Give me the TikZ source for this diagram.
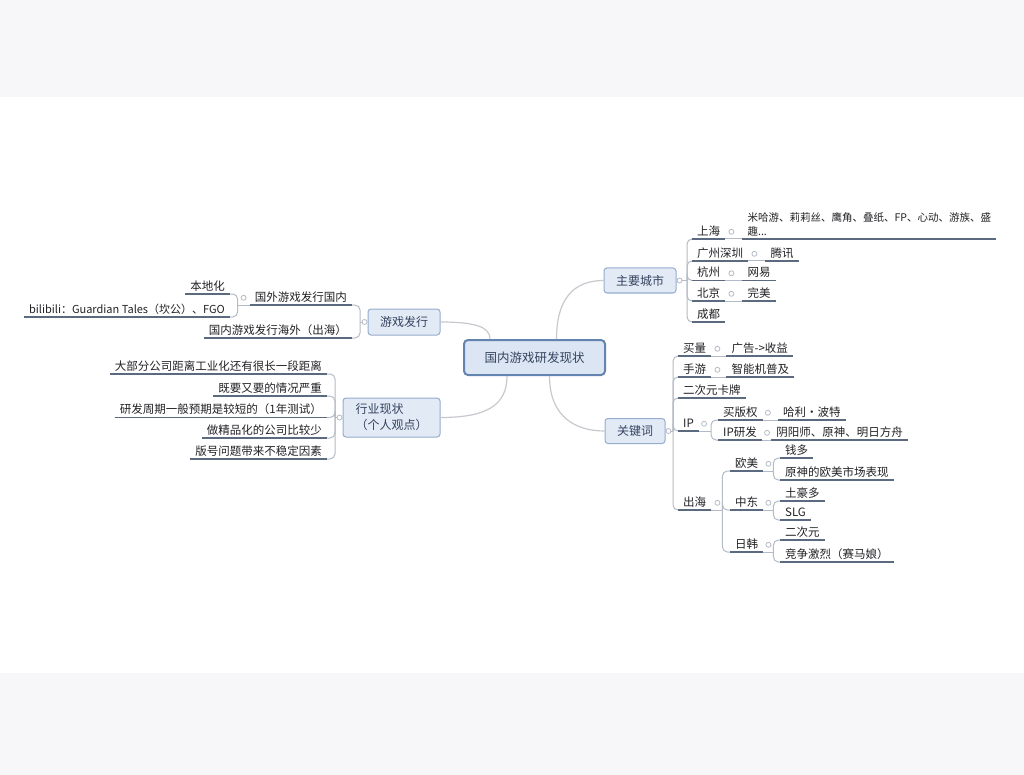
\documentclass[tikz,border=0pt]{standalone}
\usepackage{fontspec}
\setmainfont{Noto Sans CJK SC}
\usetikzlibrary{positioning}
\definecolor{bandgray}{RGB}{247,247,249}
\definecolor{leaftext}{RGB}{34,34,38}
\definecolor{ulinec}{RGB}{92,106,128}
\definecolor{forkc}{RGB}{180,187,198}
\definecolor{linkc}{RGB}{200,201,206}
\definecolor{topicfill}{RGB}{226,234,246}
\definecolor{topicline}{RGB}{150,173,206}
\definecolor{rootfill}{RGB}{219,229,243}
\definecolor{rootline}{RGB}{100,132,176}
\definecolor{topictext}{RGB}{52,66,94}

\begin{document}
\begin{tikzpicture}[x=1pt,y=-1pt,
  root/.style={draw=rootline,line width=2pt,fill=rootfill,rounded corners=4pt,
    minimum width=141pt,minimum height=35pt,inner sep=0pt,text=topictext,
    font=\fontsize{12.5}{15}\selectfont},
  topic/.style={draw=topicline,line width=1pt,fill=topicfill,rounded corners=3pt,
    minimum height=25pt,inner sep=0pt,text=topictext,font=\fontsize{12}{16}\selectfont},
  leaf/.style={inner xsep=5pt,inner ysep=1.5pt,text height=9pt,text depth=2pt,
    text=leaftext,font=\fontsize{11.5}{14}\selectfont,anchor=south west},
  lleaf/.style={leaf,anchor=south east},
  dot/.style={circle,draw=forkc,line width=0.8pt,fill=white,inner sep=0pt,minimum size=5pt},
  fork/.style={draw=forkc,line width=1pt,rounded corners=5pt},
  uline/.style={draw=ulinec,line width=1.3pt},
  link/.style={draw=linkc,line width=1.2pt}]
  % background
  \fill[white] (0,0) rectangle (1024,775);
  \fill[bandgray] (0,0) rectangle (1024,97);
  \fill[bandgray] (0,673) rectangle (1024,775);
  \useasboundingbox (0,0) rectangle (1024,775);

  \node[root] (root) at (534.5,357.5) {国内游戏研发现状};
  \node[topic,minimum width=72pt] (city) at (640,280.5) {主要城市};
  \node[topic,minimum width=60pt] (kw) at (635,431) {关键词};
  \node[topic,minimum width=72pt,minimum height=26pt] (pub) at (404,322) {游戏发行};
  \node[topic,minimum width=97pt,minimum height=39pt,align=left] (ind) at (391.5,417.5) {行业现状\\（个人观点）};

  \draw[link] ([xshift=22pt]root.north) .. controls +(0,-40) and +(-30,0) .. (city.west);
  \draw[link] ([xshift=15pt]root.south) .. controls +(0,40) and +(-30,0) .. (kw.west);
  \draw[link] (pub.east) .. controls +(35,0) and +(0,-12) .. ([xshift=-44.5pt]root.north);
  \draw[link] (ind.east) .. controls +(45,0) and +(0,30) .. ([xshift=-27.5pt]root.south);

  % main cities
  \node[dot] (citydot) at ([xshift=3pt]city.east) {};
  \coordinate (cityfork) at (687,280.5);
  \node[leaf] (sh) at (692,239) {上海};
  \node[leaf] (gz) at (692,261) {广州深圳};
  \node[leaf] (hz) at (692,280.5) {杭州};
  \node[leaf] (bj) at (692,301) {北京};
  \node[leaf] (cd) at (692,322) {成都};
  \node[leaf,align=left,text height=23pt,font=\fontsize{10.5}{14}\selectfont,
    right=17pt of sh.south east,anchor=south west] (shco) {米哈游、莉莉丝、鹰角、叠纸、FP、心动、游族、盛\\趣...};
  \node[leaf,right=17pt of gz.south east,anchor=south west] (tx) {腾讯};
  \node[leaf,right=17pt of hz.south east,anchor=south west] (wy) {网易};
  \node[leaf,right=17pt of bj.south east,anchor=south west] (wm) {完美};
  \draw[fork] (citydot) -- (cityfork);
  \foreach \n in {sh,gz,hz,bj,cd} \draw[fork] (cityfork) |- (\n.south west);
  \foreach \a/\b in {sh/shco,gz/tx,hz/wy,bj/wm}{
    \node[dot] at ([xshift=6pt]\a.east) {};
    \draw[fork] (\a.south east) -- (\b.south west);
  }

  % keywords
  \node[dot] (kwdot) at ([xshift=3pt]kw.east) {};
  \coordinate (kwfork) at (673,431);
  \node[leaf] (mi) at (678,356) {买量};
  \node[leaf] (sy) at (678,377) {手游};
  \node[leaf] (ecy) at (678,398) {二次元卡牌};
  \node[leaf] (ip) at (678,431) {IP};
  \node[leaf] (ch) at (678,510) {出海};
  \node[leaf,right=15pt of mi.south east,anchor=south west] (ad) {广告->收益};
  \node[leaf,right=15pt of sy.south east,anchor=south west] (phone) {智能机普及};
  \draw[fork] (kwdot) -- (kwfork);
  \foreach \n in {mi,sy,ecy,ip,ch} \draw[fork] (kwfork) |- (\n.south west);
  \foreach \a/\b in {mi/ad,sy/phone}{
    \node[dot] at ([xshift=6pt]\a.east) {};
    \draw[fork] (\a.south east) -- (\b.south west);
  }

  % IP
  \node[dot] at ([xshift=5pt]ip.east) {};
  \coordinate (ipfork) at ([xshift=12pt]ip.south east);
  \node[leaf] (bq) at (718,420) {买版权};
  \node[leaf] (ipyf) at (718,440) {IP研发};
  \node[leaf,right=15pt of bq.south east,anchor=south west] (hp) {哈利·波特};
  \node[leaf,right=9pt of ipyf.south east,anchor=south west] (yys) {阴阳师、原神、明日方舟};
  \draw[fork] (ip.south east) -- (ipfork);
  \foreach \n in {bq,ipyf} \draw[fork] (ipfork) |- (\n.south west);
  \foreach \a/\b in {bq/hp,ipyf/yys}{
    \node[dot] at ([xshift=5pt]\a.east) {};
    \draw[fork] (\a.south east) -- (\b.south west);
  }

  % going abroad
  \node[dot] at ([xshift=6pt]ch.east) {};
  \coordinate (chfork) at ([xshift=11pt]ch.south east);
  \node[leaf] (om) at (730,471) {欧美};
  \node[leaf] (zd) at (730,510) {中东};
  \node[leaf] (rh) at (730,552) {日韩};
  \draw[fork] (ch.south east) -- (chfork);
  \foreach \n in {om,zd,rh}{
    \draw[fork] (chfork) |- (\n.south west);
    \node[dot] at ([xshift=5pt]\n.east) {};
    \coordinate (\n fork) at ([xshift=10pt]\n.south east);
    \draw[fork] (\n.south east) -- (\n fork);
  }
  \node[leaf] (qd) at (780,458) {钱多};
  \node[leaf] (ysom) at (780,480) {原神的欧美市场表现};
  \node[leaf] (thd) at (780,501) {土豪多};
  \node[leaf] (slg) at (780,520) {SLG};
  \node[leaf] (ecyr) at (780,540) {二次元};
  \node[leaf] (jz) at (780,562) {竞争激烈（赛马娘）};
  \foreach \a/\b in {om/qd,om/ysom,zd/thd,zd/slg,rh/ecyr,rh/jz}
    \draw[fork] (\a fork) |- (\b.south west);

  % publishing
  \node[dot] (pubdot) at ([xshift=-3pt]pub.west) {};
  \coordinate (pubfork) at (360,322);
  \node[lleaf] (gwfx) at (352,305) {国外游戏发行国内};
  \node[lleaf] (gnfx) at (352,338) {国内游戏发行海外（出海）};
  \draw[fork] (pubdot) -- (pubfork);
  \foreach \n in {gwfx,gnfx} \draw[fork] (pubfork) |- (\n.south east);
  \node[dot] at ([xshift=-6pt]gwfx.west) {};
  \coordinate (gwfork) at ([xshift=-12pt]gwfx.south west);
  \node[lleaf] (bdh) at (230,294) {本地化};
  \node[lleaf,font=\fontsize{11}{14}\selectfont] (bili) at (230,317) {bilibili：Guardian Tales（坎公）、FGO};
  \draw[fork] (gwfx.south west) -- (gwfork);
  \foreach \n in {bdh,bili} \draw[fork] (gwfork) |- (\n.south east);

  % industry
  \node[dot] (inddot) at ([xshift=-3pt]ind.west) {};
  \coordinate (indfork) at (335,417.5);
  \node[lleaf] (i1) at (327,374) {大部分公司距离工业化还有很长一段距离};
  \node[lleaf] (i2) at (327,396) {既要又要的情况严重};
  \node[lleaf] (i3) at (327,417.5) {研发周期一般预期是较短的（1年测试）};
  \node[lleaf] (i4) at (327,438) {做精品化的公司比较少};
  \node[lleaf] (i5) at (327,459) {版号问题带来不稳定因素};
  \draw[fork] (inddot) -- (indfork);
  \foreach \n in {i1,i2,i3,i4,i5} \draw[fork] (indfork) |- (\n.south east);

  % underlines
  \foreach \n in {sh,gz,hz,bj,cd,shco,tx,wy,wm,mi,sy,ecy,ip,ch,ad,phone,bq,ipyf,hp,yys,
      om,zd,rh,qd,ysom,thd,slg,ecyr,jz,gwfx,gnfx,bdh,bili,i1,i2,i3,i4,i5}
    \draw[uline] (\n.south west) -- (\n.south east);
\end{tikzpicture}
\end{document}
